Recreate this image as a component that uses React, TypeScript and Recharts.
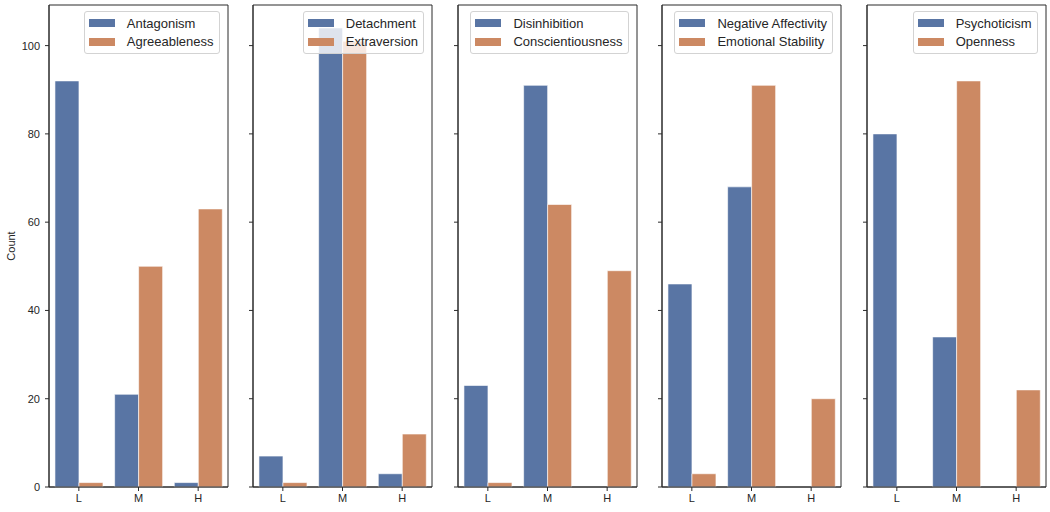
import React from "react";
import { BarChart, Bar, XAxis, YAxis, Legend, ReferenceArea } from "recharts";

const levels = ["L", "M", "H"];
const yTicks = [0, 20, 40, 60, 80, 100];
const Y_MAX = 109.2;

// PID-5 domain vs. matching FFM trait, counts per level
const antagonism = [92, 21, 1];
const agreeableness = [1, 50, 63];
const detachment = [7, 104, 3];
const extraversion = [1, 101, 12];
const disinhibition = [23, 91, 0];
const conscientiousness = [1, 64, 49];
const negativeAffectivity = [46, 68, 0];
const emotionalStability = [3, 91, 20];
const psychoticism = [80, 34, 0];
const openness = [0, 92, 22];

const panels = [
  { pid: "Antagonism", ffm: "Agreeableness", pidValues: antagonism, ffmValues: agreeableness },
  { pid: "Detachment", ffm: "Extraversion", pidValues: detachment, ffmValues: extraversion },
  { pid: "Disinhibition", ffm: "Conscientiousness", pidValues: disinhibition, ffmValues: conscientiousness },
  { pid: "Negative Affectivity", ffm: "Emotional Stability", pidValues: negativeAffectivity, ffmValues: emotionalStability },
  { pid: "Psychoticism", ffm: "Openness", pidValues: psychoticism, ffmValues: openness },
];

const BLUE = "#5975a4";
const ORANGE = "#cc8963";
const AXIS = "#2b2b2b";
const FONT = "'Liberation Sans', Arial, Helvetica, sans-serif";

const AXIS_W = 48;
const PLOT_W = 179;
const STEP = 204.5;
const FIRST_LEFT = 48.5;

const LegendBox = ({ payload }: any) => (
  <div
    style={{
      border: "1px solid #d3d3d3",
      borderRadius: 3,
      background: "rgba(255,255,255,0.8)",
      padding: "2px 5px 2px 4px",
      fontFamily: FONT,
    }}
  >
    {(payload || []).map((p: any) => (
      <div key={p.value} style={{ display: "flex", alignItems: "center", height: 18.5 }}>
        <span
          style={{
            display: "inline-block",
            width: 26,
            height: 8,
            background: p.color,
            marginRight: 12,
          }}
        />
        <span style={{ fontSize: 13, color: "#262626", whiteSpace: "nowrap" }}>{p.value}</span>
      </div>
    ))}
  </div>
);

const CountLabel = ({ viewBox }: any) => {
  const cy = viewBox.y + viewBox.height / 2;
  return (
    <text
      x={10}
      y={cy}
      transform={`rotate(-90, 10, ${cy})`}
      textAnchor="middle"
      dominantBaseline="central"
      fontSize={11}
      fontFamily={FONT}
      fill="#262626"
    >
      Count
    </text>
  );
};

const seriesOrder = (item: any) => (item.dataKey === "pid" ? 0 : 1);

const Panel = ({ panel, index }: any) => {
  const data = levels.map((level, i) => ({
    level,
    pid: panel.pidValues[i],
    ffm: panel.ffmValues[i],
  }));
  const first = index === 0;
  return (
    <div style={{ position: "absolute", top: 0, left: FIRST_LEFT + STEP * index - AXIS_W }}>
      <BarChart
        width={AXIS_W + PLOT_W + 2}
        height={512}
        data={data}
        margin={{ top: 5, right: 2, bottom: 0, left: 0 }}
        barCategoryGap="10%"
        barGap={0}
      >
        <XAxis
          dataKey="level"
          height={25}
          tickSize={4}
          tickMargin={3}
          axisLine={{ stroke: AXIS }}
          tickLine={{ stroke: AXIS }}
          tick={{ fontSize: 11, fill: "#262626", fontFamily: FONT }}
        />
        <YAxis
          type="number"
          width={AXIS_W}
          domain={[0, Y_MAX]}
          ticks={yTicks}
          tickSize={4}
          tickMargin={5}
          axisLine={{ stroke: AXIS }}
          tickLine={{ stroke: AXIS }}
          tick={{ fontSize: 11, fill: "#262626", fontFamily: FONT }}
          tickFormatter={first ? undefined : () => ""}
          label={first ? <CountLabel /> : undefined}
        />
        <Bar
          dataKey="pid"
          name={panel.pid}
          fill={BLUE}
          stroke="#ffffff"
          strokeOpacity={0.6}
          strokeWidth={1}
          isAnimationActive={false}
        />
        <Bar
          dataKey="ffm"
          name={panel.ffm}
          fill={ORANGE}
          stroke="#ffffff"
          strokeOpacity={0.6}
          strokeWidth={1}
          isAnimationActive={false}
        />
        {/* frame around the plot, like matplotlib spines */}
        <ReferenceArea
          x1={levels[0]}
          x2={levels[levels.length - 1]}
          y1={0}
          y2={Y_MAX}
          fill="none"
          stroke={AXIS}
          strokeWidth={1}
          ifOverflow="visible"
        />
        <Legend
          layout="horizontal"
          align="center"
          verticalAlign="middle"
          itemSorter={seriesOrder}
          content={<LegendBox />}
          wrapperStyle={{ top: 11, right: 10, left: "auto", width: "auto", height: "auto" }}
        />
      </BarChart>
    </div>
  );
};

export default function App() {
  return (
    <div
      style={{
        position: "absolute",
        left: 0,
        top: 0,
        width: 1050,
        height: 512,
        background: "#fff",
        fontFamily: FONT,
      }}
    >
      {panels.map((panel, index) => (
        <Panel key={panel.pid} panel={panel} index={index} />
      ))}
    </div>
  );
}
